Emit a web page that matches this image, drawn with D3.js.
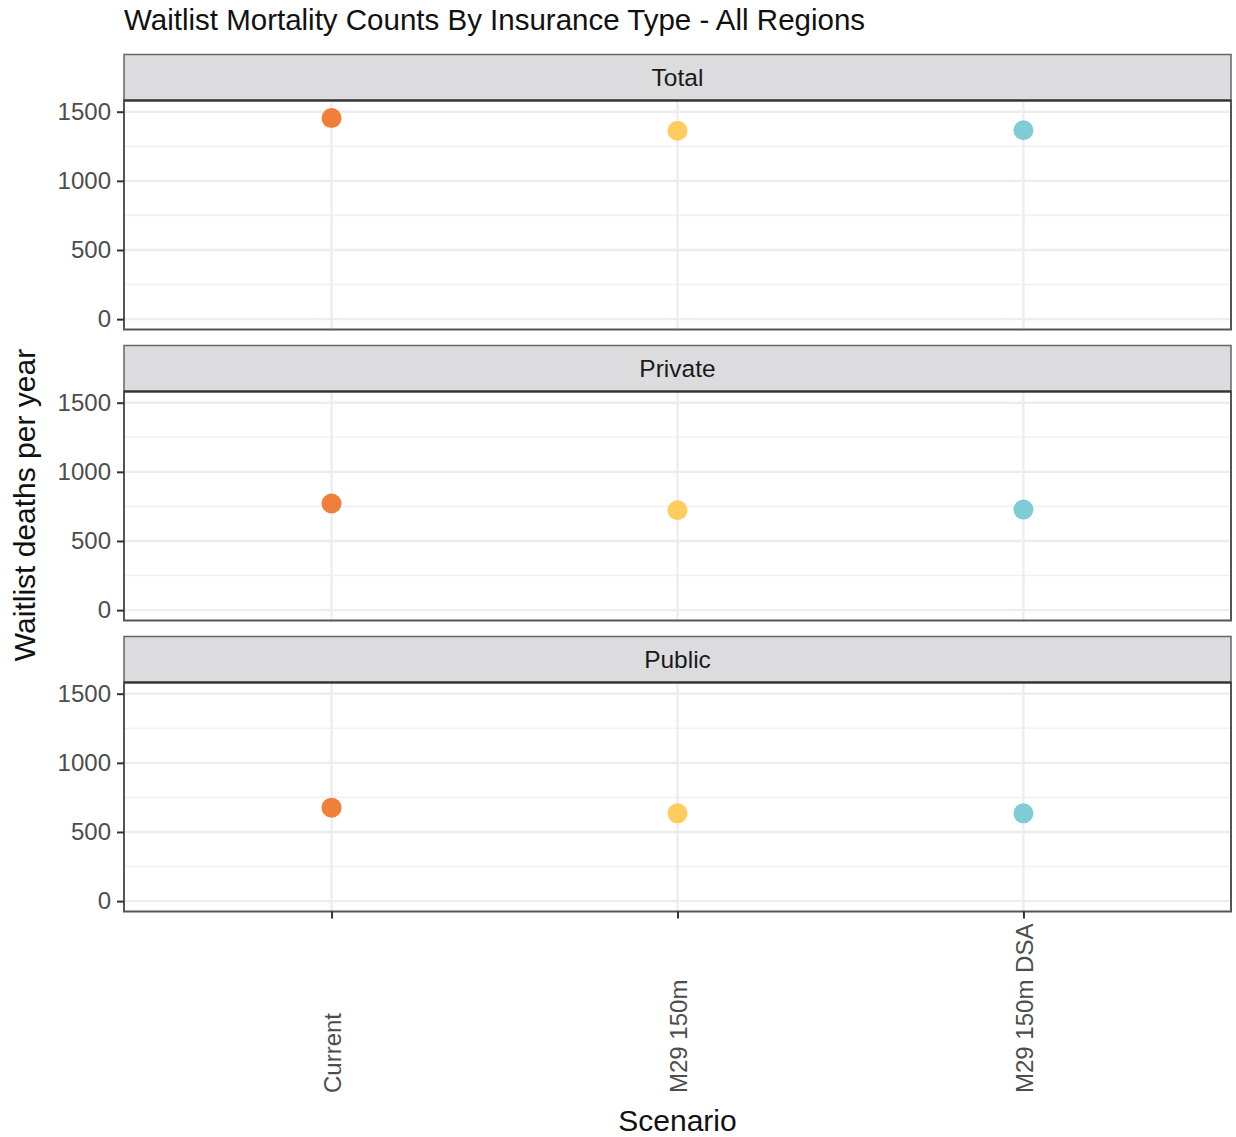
<!DOCTYPE html>
<html>
<head>
<meta charset="utf-8">
<script src="https://cdn.jsdelivr.net/npm/d3@7"></script>
<style>
  body { margin: 0; background: #fff; }
  svg { display: block; font-family: "Liberation Sans", Arial, sans-serif; }
</style>
</head>
<body>
<svg id="chart" width="1236" height="1137"></svg>
<script>
// ---- data ----
const categories = ["Current", "M29 150m", "M29 150m DSA"];
const facets = ["Total", "Private", "Public"];
const totalValues = [1454, 1362, 1366];
const privateValues = [771, 722, 727];
const publicValues = [676, 635, 635];
const yTicks = [0, 500, 1000, 1500];
const yMinorTicks = [250, 750, 1250];
const yDomain = [-75, 1581];
const pointColors = ["#f07f3a", "#ffcd5e", "#80ccd4"];
const titleText = "Waitlist Mortality Counts By Insurance Type - All Regions";
const xTitle = "Scenario";
const yTitle = "Waitlist deaths per year";

const facetValues = [totalValues, privateValues, publicValues];

// ---- layout ----
const svg = d3.select("#chart");
const left = 124, right = 1231;
const stripTops = [54.5, 345.5, 636.5];
const stripH = 46;
const panelH = 229;

const x = d3.scalePoint().domain(categories).range([left, right]).padding(0.6);
const color = d3.scaleOrdinal().domain(categories).range(pointColors);

svg.append("text")
  .attr("x", left).attr("y", 30)
  .attr("font-size", 29.5).attr("fill", "#111")
  .text(titleText);

facets.forEach((f, i) => {
  const sTop = stripTops[i];
  const pTop = sTop + stripH;
  const pBot = pTop + panelH;
  const y = d3.scaleLinear().domain(yDomain).range([pBot, pTop]);
  const g = svg.append("g");

  // strip
  g.append("rect")
    .attr("x", left).attr("y", sTop).attr("width", right - left).attr("height", stripH)
    .attr("fill", "#dcdbde").attr("stroke", "#666").attr("stroke-width", 1.5);
  g.append("text")
    .attr("x", (left + right) / 2).attr("y", sTop + stripH / 2)
    .attr("dy", "0.36em").attr("text-anchor", "middle")
    .attr("font-size", 24.5).attr("fill", "#1a1a1a")
    .text(f);

  // panel background
  g.append("rect")
    .attr("x", left).attr("y", pTop).attr("width", right - left).attr("height", panelH)
    .attr("fill", "#fff");

  // minor grid
  g.selectAll(".minor").data(yMinorTicks).join("line")
    .attr("x1", left).attr("x2", right)
    .attr("y1", d => y(d)).attr("y2", d => y(d))
    .attr("stroke", "#f2f0f3").attr("stroke-width", 1.6);
  // major grid
  g.selectAll(".major").data(yTicks).join("line")
    .attr("x1", left).attr("x2", right)
    .attr("y1", d => y(d)).attr("y2", d => y(d))
    .attr("stroke", "#eeecef").attr("stroke-width", 2.4);
  g.selectAll(".vgrid").data(categories).join("line")
    .attr("x1", d => x(d)).attr("x2", d => x(d))
    .attr("y1", pTop).attr("y2", pBot)
    .attr("stroke", "#eeecef").attr("stroke-width", 2.4);

  // points
  g.selectAll("circle").data(categories).join("circle")
    .attr("cx", d => x(d))
    .attr("cy", (d, j) => y(facetValues[i][j]))
    .attr("r", 10)
    .attr("fill", d => color(d));

  // panel border
  g.append("rect")
    .attr("x", left).attr("y", pTop).attr("width", right - left).attr("height", panelH)
    .attr("fill", "none").attr("stroke", "#555").attr("stroke-width", 2);
  g.append("line")
    .attr("x1", left).attr("x2", right).attr("y1", pTop).attr("y2", pTop)
    .attr("stroke", "#333").attr("stroke-width", 2);

  // y axis
  const yAxis = d3.axisLeft(y).tickValues(yTicks).tickSize(7).tickPadding(6).tickFormat(d3.format("d"));
  const ya = g.append("g").attr("transform", `translate(${left},0)`).call(yAxis);
  ya.select(".domain").remove();
  ya.selectAll(".tick line").attr("stroke", "#333").attr("stroke-width", 2);
  ya.selectAll(".tick text").attr("font-size", 24).attr("fill", "#4d4d4d")
    .attr("font-family", "Liberation Sans, Arial, sans-serif");

  if (i === facets.length - 1) {
    const xAxis = d3.axisBottom(x).tickSize(7).tickPadding(0);
    const xa = g.append("g").attr("transform", `translate(0,${pBot})`).call(xAxis);
    xa.select(".domain").remove();
    xa.selectAll(".tick line").attr("stroke", "#333").attr("stroke-width", 2);
    xa.selectAll(".tick text")
      .attr("font-size", 24).attr("fill", "#4d4d4d")
      .attr("font-family", "Liberation Sans, Arial, sans-serif")
      .attr("text-anchor", "start")
      .attr("transform", `translate(0,${1093 - pBot}) rotate(-90)`)
      .attr("x", 0).attr("y", 0).attr("dy", "0.36em");
  }
});

// axis titles
svg.append("text")
  .attr("x", (left + right) / 2).attr("y", 1131)
  .attr("text-anchor", "middle").attr("font-size", 30).attr("fill", "#111")
  .text(xTitle);
svg.append("text")
  .attr("transform", "translate(35,505) rotate(-90)")
  .attr("text-anchor", "middle").attr("font-size", 30).attr("fill", "#111")
  .text(yTitle);
</script>
</body>
</html>
